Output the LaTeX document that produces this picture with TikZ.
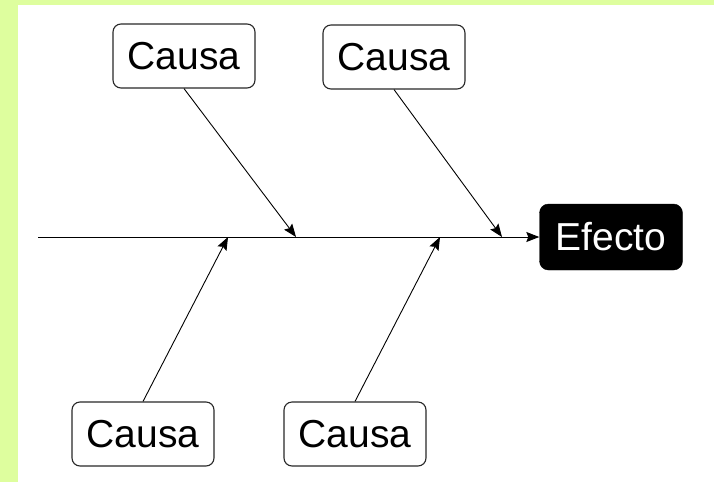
\documentclass[tikz,border=0pt]{standalone}
\usepackage{fontspec}
\setmainfont{Liberation Sans}
\usetikzlibrary{arrows.meta}
\definecolor{bggreen}{RGB}{222,254,158}
\definecolor{linegray}{RGB}{40,40,40}
\tikzset{
  causebox/.style={draw=linegray, line width=1.1pt, rounded corners=8pt, fill=white,
    minimum width=142pt, minimum height=64pt, inner sep=0pt, font=\fontsize{39}{40}\selectfont},
  effectbox/.style={draw=black, fill=black, text=white, rounded corners=9pt,
    minimum width=143pt, minimum height=66pt, inner sep=0pt, font=\fontsize{39}{40}\selectfont},
  arr/.style={draw=black, line width=0.9pt, -{Stealth[length=13pt,width=10pt,inset=2pt]}},
}
\begin{document}
\begin{tikzpicture}[x=1pt,y=-1pt]
\fill[bggreen] (0,0) rectangle (714,482);
\fill[white] (18,5) rectangle (714,482);
\useasboundingbox (0,0) rectangle (714,482);
\node[causebox] (c1) at (184,56) {Causa};
\node[causebox] (c2) at (394,57) {Causa};
\node[causebox] (c3) at (143,434) {Causa};
\node[causebox] (c4) at (355,434) {Causa};
\node[effectbox] (e) at (611,237) {Efecto};
\coordinate (s) at (38,237);
\coordinate (t1) at (296,237);
\coordinate (t2) at (502,237);
\coordinate (t3) at (228,237);
\coordinate (t4) at (440,237);
\draw[arr] (s) -- (e.west);
\draw[arr] (c1.south) -- (t1);
\draw[arr] (c2.south) -- (t2);
\draw[arr] (c3.north) -- (t3);
\draw[arr] (c4.north) -- (t4);
\end{tikzpicture}
\end{document}
